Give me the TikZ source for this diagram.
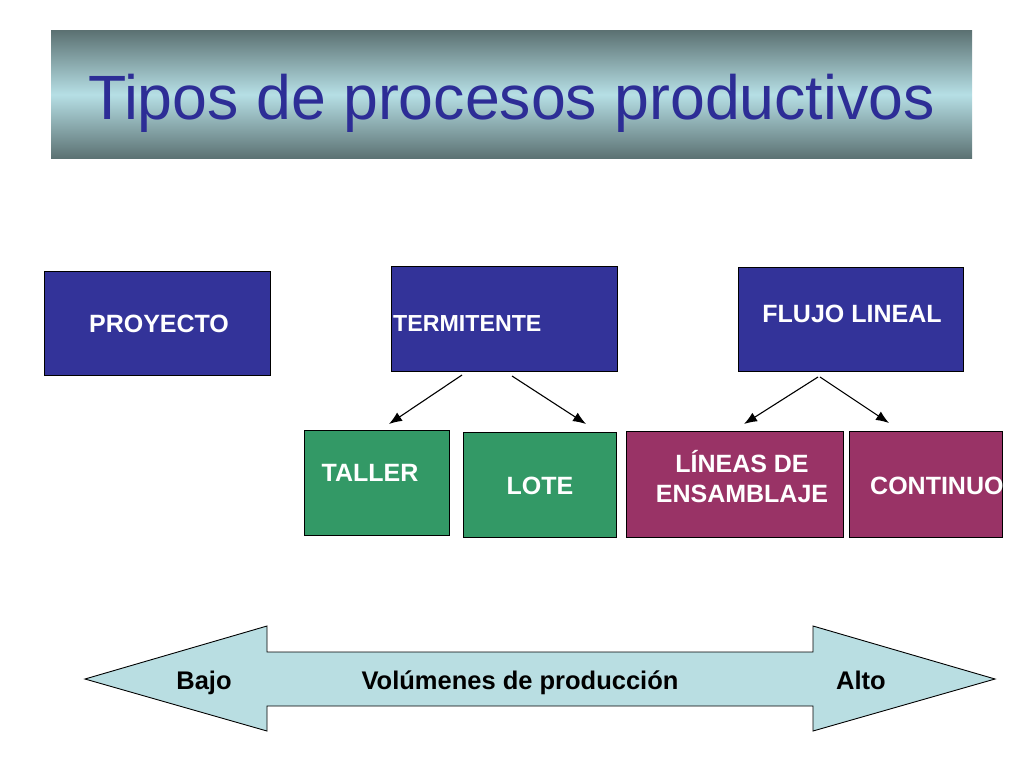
\documentclass[tikz,border=0pt]{standalone}
\usepackage{fontspec}
\setmainfont{Liberation Sans}
\usetikzlibrary{arrows.meta}
\definecolor{boxblue}{RGB}{51,51,153}
\definecolor{boxgreen}{RGB}{51,153,102}
\definecolor{boxmaroon}{RGB}{153,51,102}
\definecolor{titleblue}{RGB}{45,45,150}
\definecolor{bandedge}{RGB}{92,114,115}
\definecolor{bandmid}{RGB}{182,223,229}
\definecolor{arrowfill}{RGB}{185,222,226}
\tikzset{
  box/.style={draw=black, line width=0.9pt, inner sep=0pt},
  boxtext/.style={text=white, font=\fontsize{25}{29}\selectfont\bfseries, inner sep=0pt},
  bottomtext/.style={text=black, font=\fontsize{25.5}{29}\selectfont\bfseries, inner sep=0pt, anchor=base},
  conn/.style={draw=black, line width=1.1pt, -{Latex[length=13pt,width=10pt]}}
}
\begin{document}
\begin{tikzpicture}[x=1pt,y=-1pt]
\useasboundingbox (0,0) rectangle (1024,768);
% title banner
\shade[top color=bandedge, bottom color=bandedge, middle color=bandmid] (51,31) rectangle (972,158);
\node[anchor=base, text=titleblue, font=\fontsize{62.6}{70}\selectfont, inner sep=0pt] (title) at (511.5,119) {Tipos de procesos productivos};
% top boxes
\node[box, fill=boxblue, minimum width=226pt, minimum height=104pt] (proy) at (157,323) {};
\node[box, fill=boxblue, minimum width=226pt, minimum height=105pt] (inter) at (504,318.5) {};
\node[box, fill=boxblue, minimum width=225pt, minimum height=104pt] (flujo) at (850.5,319) {};
\node[boxtext] (tproy) at (159,324) {PROYECTO};
\node[boxtext, anchor=west, font=\fontsize{23.2}{28}\selectfont\bfseries] (tinter) at (393,324) {TERMITENTE};
\node[boxtext] (tflujo) at (852,314) {FLUJO LINEAL};
% lower boxes
\node[box, fill=boxgreen, minimum width=145pt, minimum height=105pt] (taller) at (376.5,482.5) {};
\node[box, fill=boxgreen, minimum width=153pt, minimum height=105pt] (lote) at (539.5,484.5) {};
\node[box, fill=boxmaroon, minimum width=217pt, minimum height=106pt] (lineas) at (734.5,484) {};
\node[box, fill=boxmaroon, minimum width=153pt, minimum height=106pt] (cont) at (925.5,484) {};
\node[boxtext] (ttaller) at (370,473) {TALLER};
\node[boxtext] (tlote) at (540,486) {LOTE};
\node[boxtext, align=center, font=\fontsize{25}{30}\selectfont\bfseries] (tlineas) at (742,477) {LÍNEAS DE\\ENSAMBLAJE};
\begin{scope}
\clip (cont.south west) rectangle (cont.north east);
\node[boxtext, anchor=west] (tcont) at (870,486) {CONTINUO};
\end{scope}
% connectors
\coordinate (s1) at (462,375);
\coordinate (e1) at (389,424);
\coordinate (s2) at (512,376);
\coordinate (e2) at (586,424);
\coordinate (s3) at (818,377);
\coordinate (e3) at (744,424);
\coordinate (s4) at (820,377);
\coordinate (e4) at (889,423);
\draw[conn] (s1) -- (e1);
\draw[conn] (s2) -- (e2);
\draw[conn] (s3) -- (e3);
\draw[conn] (s4) -- (e4);
% double arrow
\draw[fill=arrowfill, draw=black, line width=0.9pt]
  (85,679) -- (267,626) -- (267,652) -- (813,652) -- (813,626) -- (995,679)
  -- (813,731) -- (813,706) -- (267,706) -- (267,731) -- cycle;
\node[bottomtext] (bajo) at (204,689) {Bajo};
\node[bottomtext] (vol) at (520,689) {Volúmenes de producción};
\node[bottomtext] (alto) at (861,689) {Alto};
\end{tikzpicture}
\end{document}
